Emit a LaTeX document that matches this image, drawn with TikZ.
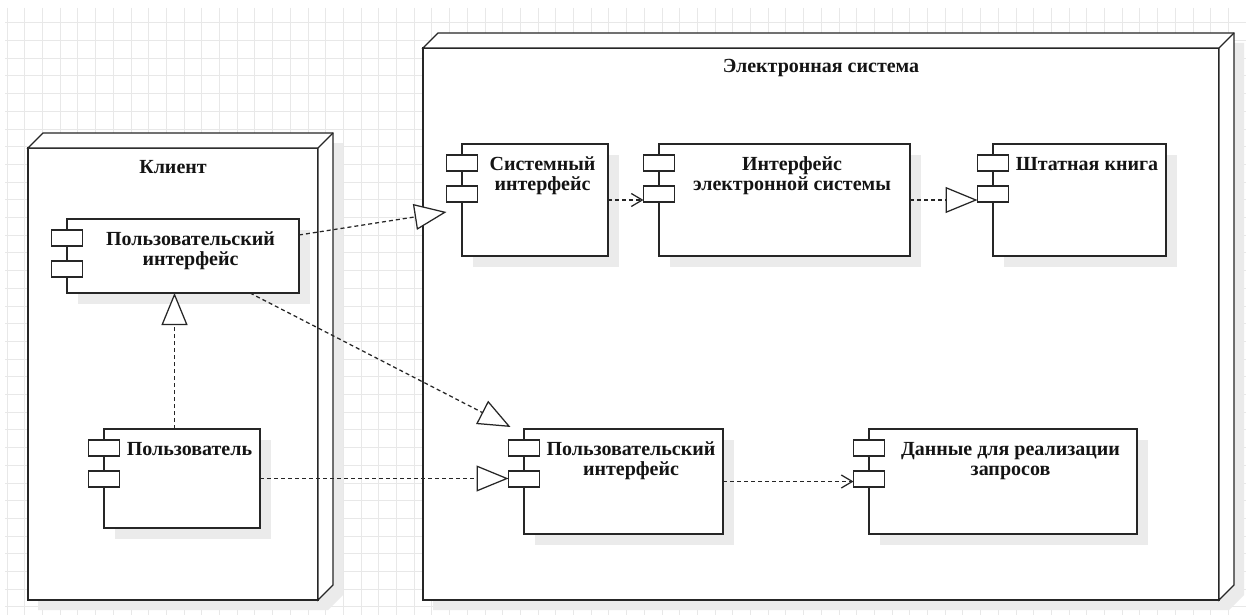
\documentclass[tikz,border=0pt]{standalone}
\usepackage{fontspec}
\setmainfont{Liberation Serif}
\usetikzlibrary{arrows.meta,calc}

% 3D deployment node: name, x1, y1, x2, y2 (front face), title
\newcommand\umlbox[6]{%
  \path[softshadow] ({#2+10},{#3+10}) -- ({#2+25},{#3-5}) -- ({#4+25},{#3-5})
    -- ({#4+25},{#5-5}) -- ({#4+10},{#5+10}) -- ({#2+10},{#5+10}) -- cycle;
  \node[front, minimum width={(#4)-(#2)}, minimum height={(#5)-(#3)}]
    (#1) at ({(#2+#4)/2},{(#3+#5)/2}) {};
  \draw[faceline] (#1.north west) -- ++(15,-15) -- ([shift={(15,-15)}]#1.north east)
    -- ([shift={(15,-15)}]#1.south east) -- (#1.south east) -- (#1.north east) -- cycle;
  \draw[ink] (#1.north east) -- ++(15,-15);
  \node[lbl, anchor=base] (#1-title) at ($(#1.north)+(0,25)$) {#6};
}

% UML component: name, cx, cy, width, height, number of label lines, label
\newcommand\umlcomp[7]{%
  \fill[softshadow] ({#2-#4/2+11},{#3-#5/2+11}) rectangle ++(#4,#5);
  \node[comp, minimum width=#4, minimum height=#5] (#1) at (#2,#3) {};
  \node[port] (#1-p1) at ($(#1.north west)+(-15.5,11)$) {};
  \node[port] (#1-p2) at ($(#1.north west)+(-15.5,42)$) {};
  \node[lbl, anchor=base] (#1-text) at ($(#1.north)+(7.5,{6.5+20*#6})$) {#7};
}

\begin{document}
\begin{tikzpicture}[x=1pt,y=-1pt,
  line join=miter,
  ink/.style={draw=black!85, line width=1.3pt},
  gridline/.style={draw=black!9, line width=0.7pt},
  faceline/.style={ink, fill=white},
  front/.style={ink, fill=white, inner sep=0pt, outer sep=0pt, rectangle},
  comp/.style={ink, fill=white, inner sep=0pt, outer sep=0pt, rectangle},
  port/.style={ink, fill=white, inner sep=0pt, outer sep=0pt, minimum width=31pt,
    minimum height=16pt, anchor=north west},
  softshadow/.style={fill=black!8},
  lbl/.style={font=\bfseries\fontsize{20}{20}\selectfont, align=center,
    inner sep=0pt, text=black!92},
  link/.style={draw=black!85, line width=1.25pt, dash pattern=on 4pt off 3pt},
  realize/.style={link, -{Triangle[length=32pt,width=26pt,fill=white]}},
  depend/.style={link, -{Straight Barb[length=11pt,width=13pt]}},
]
% canvas and background grid
\fill[white] (0,0) rectangle (1246,615);
\useasboundingbox (0,0) rectangle (1246,615);
\foreach \i in {0,...,70}
  \draw[gridline] ({7+\i*17.7},8) -- ({7+\i*17.7},615);
\foreach \j in {1,...,34}
  \draw[gridline] (5,{5+\j*17.7}) -- (1246,{5+\j*17.7});

% deployment nodes
\umlbox{client}{28}{148}{318}{600}{Клиент}
\umlbox{esys}{423}{48}{1219}{600}{Электронная система}

% components
\umlcomp{cui}{183}{256}{232}{74}{2}{Пользовательский\\интерфейс}
\umlcomp{usr}{182}{478.5}{156}{99}{1}{Пользователь}
\umlcomp{si}{535}{200}{146}{112}{2}{Системный\\интерфейс}
\umlcomp{ie}{784.5}{200}{251}{112}{2}{Интерфейс\\электронной системы}
\umlcomp{sk}{1079.5}{200}{173}{112}{1}{Штатная книга}
\umlcomp{eui}{623.5}{481.5}{199}{105}{2}{Пользовательский\\интерфейс}
\umlcomp{dat}{1003}{481.5}{268}{105}{2}{Данные для реализации\\запросов}

% connectors
\coordinate (u0) at ($(usr.north)+(-7.5,0)$);
\draw[realize] ($(cui.east)+(0,-21)$) -- ($(si-p2.south west)+(0,10)$);
\draw[depend] (si.east) -- (si.east -| ie-p2.west);
\draw[realize] (ie.east) -- (ie.east -| sk-p2.west);
\draw[realize] ($(cui.south)+(67,0)$) -- ($(eui-p1.north west)+(2,-13)$);
\draw[realize] (u0) -- (u0 |- cui.south);
\draw[realize] (usr.east) -- (usr.east -| eui-p2.west);
\draw[depend] (eui.east) -- (eui.east -| dat-p2.west);
\end{tikzpicture}
\end{document}
